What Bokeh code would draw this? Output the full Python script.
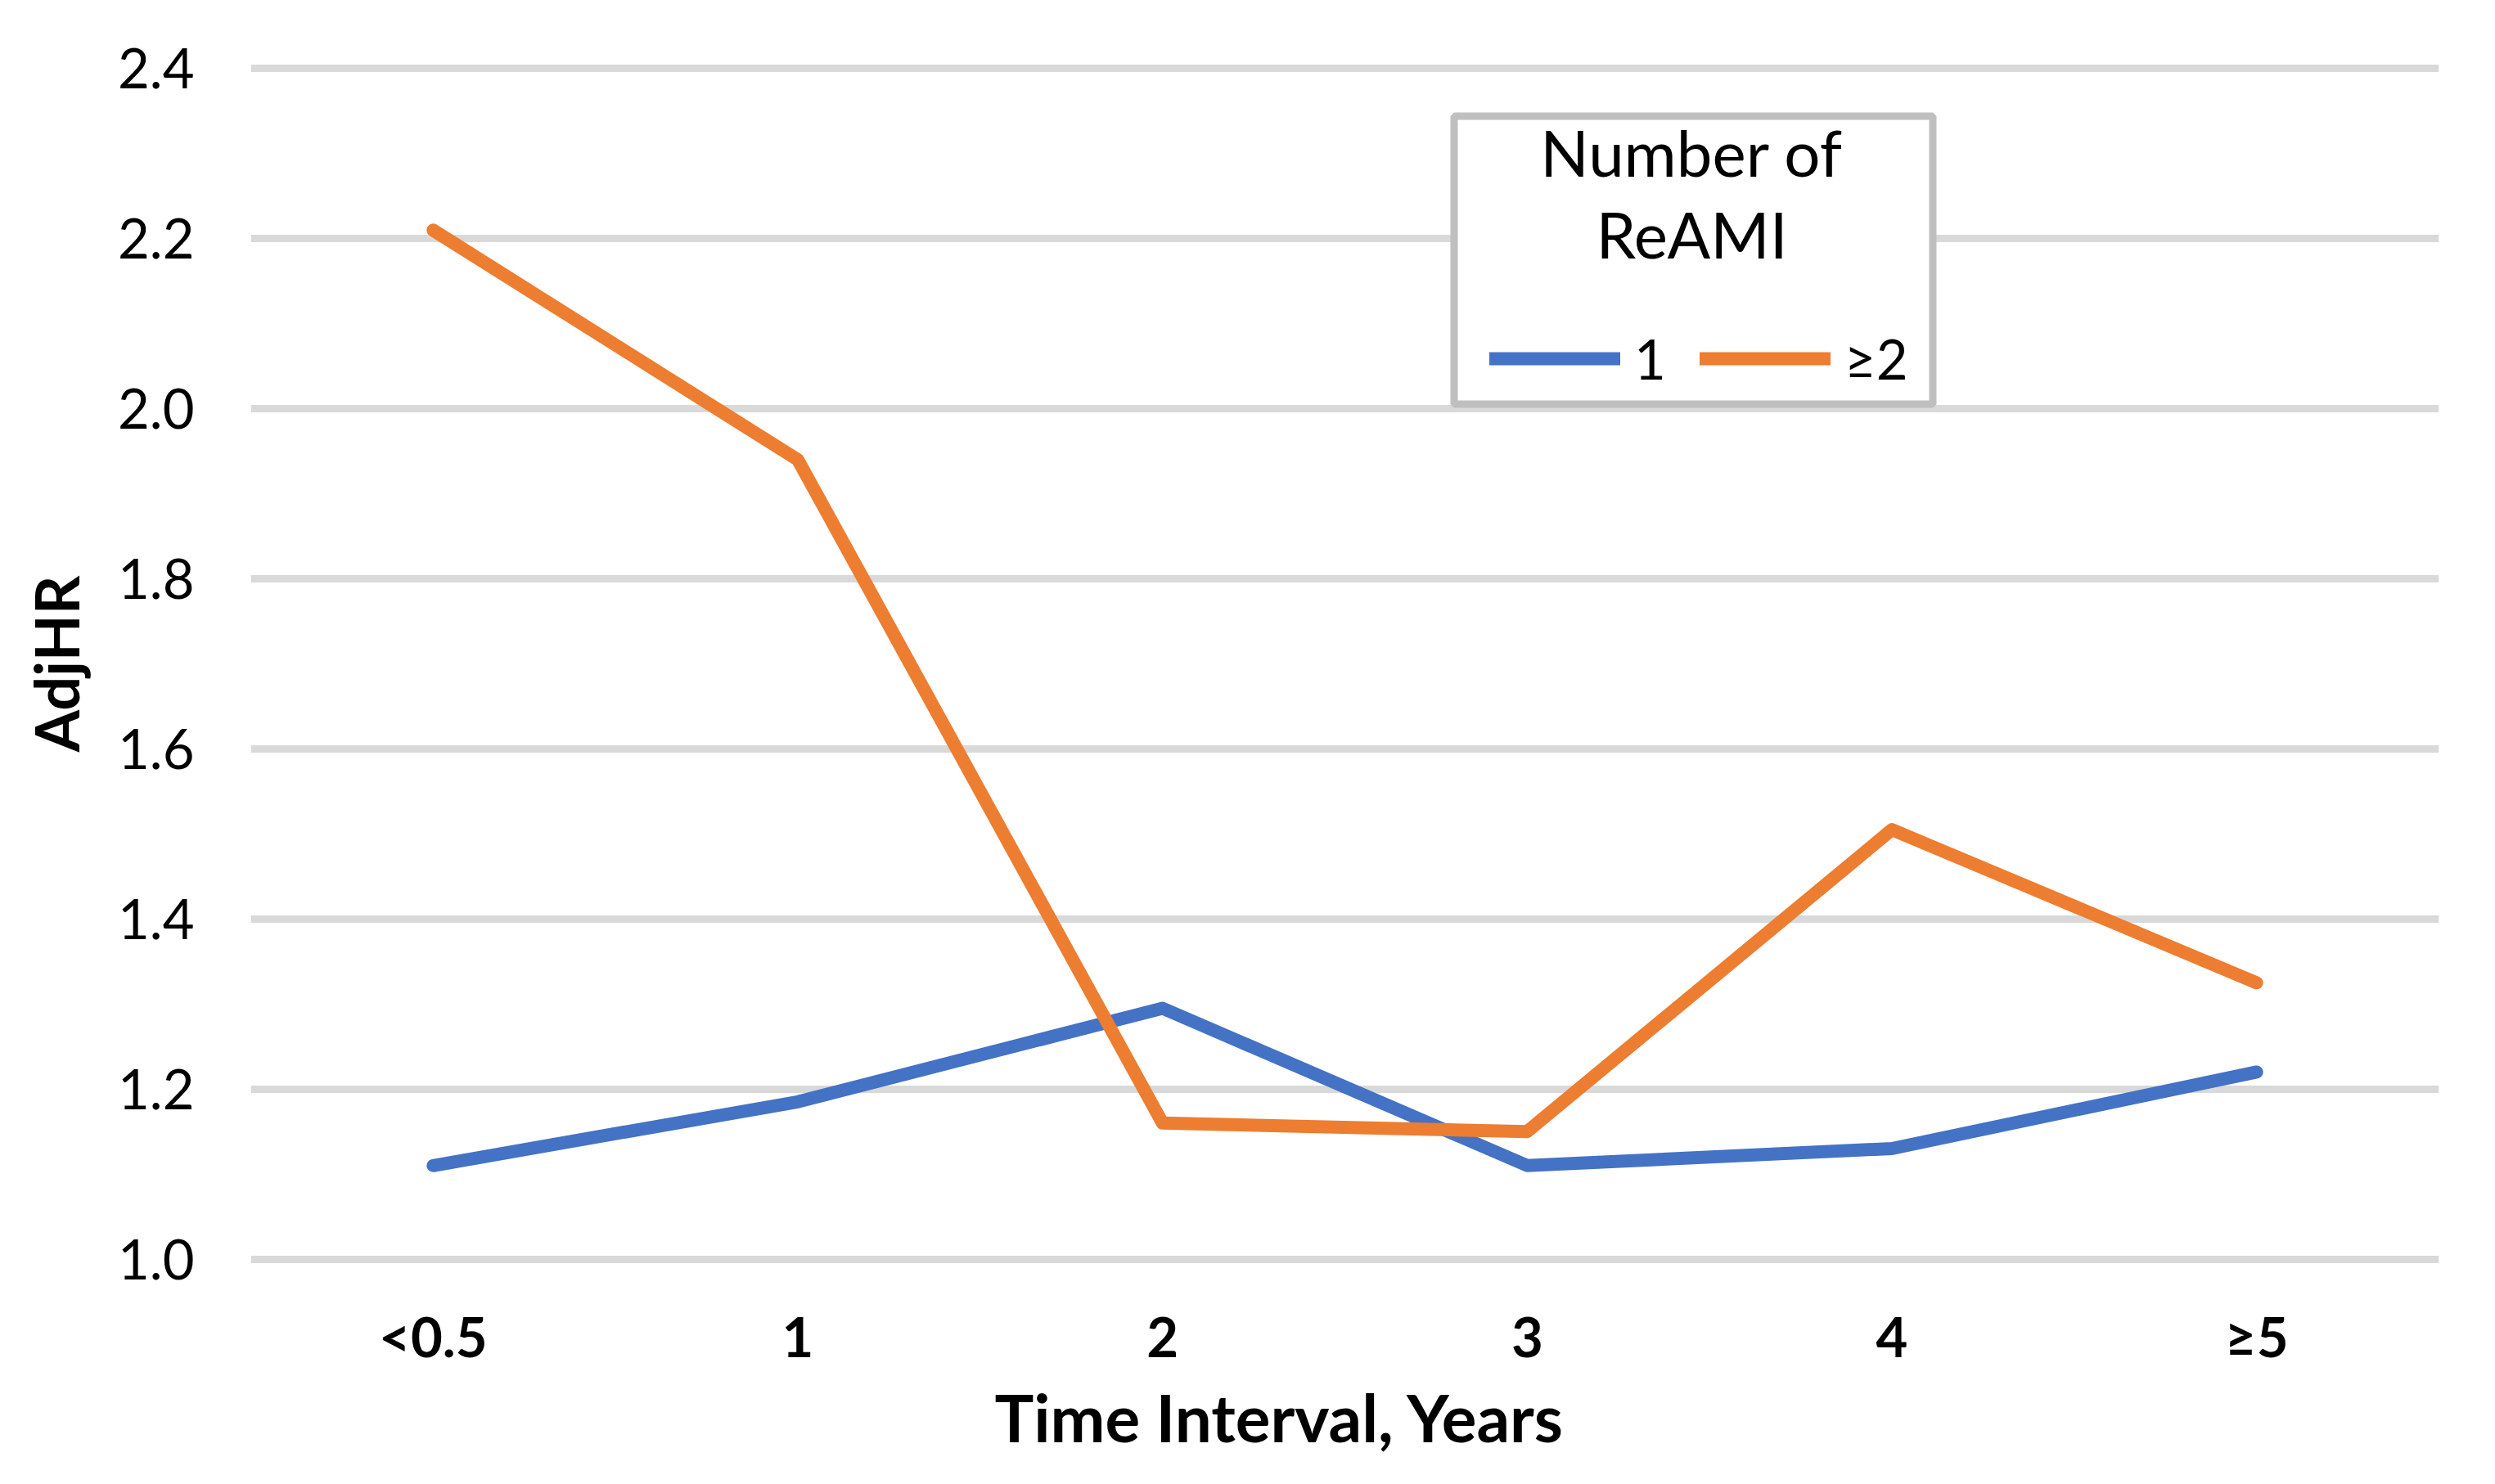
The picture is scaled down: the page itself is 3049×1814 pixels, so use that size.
from bokeh.plotting import figure
from bokeh.models import (ColumnDataSource, FactorRange, Range1d, FixedTicker,
                          PrintfTickFormatter, Legend, LegendItem, Label,
                          BoxAnnotation, Title)
from bokeh.embed import file_html
from bokeh.resources import INLINE

# ---------------- data ----------------
categories = ["<0.5", "1", "2", "3", "4", "≥5"]
reami_1 = [1.11, 1.185, 1.295, 1.11, 1.13, 1.22]
reami_2plus = [2.21, 1.94, 1.16, 1.15, 1.505, 1.325]
y_ticks = [1.0, 1.2, 1.4, 1.6, 1.8, 2.0, 2.2, 2.4]
series_names = ["1", "≥2"]
legend_title = ["Number of", "ReAMI"]
x_title = "Time Interval, Years"
y_title = "AdjHR"

# ---------------- style ----------------
FONT = "Lato"
BLUE = "#4472C4"
ORANGE = "#ED7D31"
GRID = "#D9D9D9"
LEG_BORDER = "#BFBFBF"

W, H = 3041, 1806
FRAME_L, FRAME_R = 306, 2980          # page px
FRAME_T, FRAME_B = 73, 1549
Y_LO, Y_HI = 0.99, 2.41

src = ColumnDataSource(dict(cat=categories, one=reami_1, two=reami_2plus))

p = figure(
    x_range=FactorRange(factors=categories),
    y_range=Range1d(Y_LO, Y_HI),
    width=W, height=H,
    output_backend="svg", toolbar_location=None,
    min_border_left=FRAME_L, min_border_right=W - FRAME_R,
    min_border_top=FRAME_T, min_border_bottom=H - FRAME_B,
    background_fill_color="white", border_fill_color="white",
)
p.outline_line_color = None

# helpers: page px -> data coordinates (for annotations only)
cat_w = (FRAME_R - FRAME_L) / len(categories)
px_per_unit = (FRAME_B - FRAME_T) / (Y_HI - Y_LO)
def xd(px):
    return (px - FRAME_L) / cat_w
def yd(py):
    return Y_LO + (FRAME_B - py) / px_per_unit

# grid
p.xgrid.grid_line_color = None
p.ygrid.grid_line_color = GRID
p.ygrid.grid_line_width = 9

# axes
p.yaxis.ticker = FixedTicker(ticks=y_ticks)
p.yaxis.formatter = PrintfTickFormatter(format="%.1f")
for ax in (p.xaxis[0], p.yaxis[0]):
    ax.axis_line_color = None
    ax.major_tick_line_color = None
    ax.minor_tick_line_color = None
    ax.major_label_text_font = FONT
    ax.major_label_text_font_size = "67px"
    ax.major_label_text_color = "black"
p.yaxis.major_label_standoff = 63
p.xaxis.major_label_standoff = 37
p.xaxis.major_label_text_font_style = "bold"

p.yaxis.axis_label = y_title
p.yaxis.axis_label_text_font = FONT
p.yaxis.axis_label_text_font_size = "74px"
p.yaxis.axis_label_text_font_style = "bold"
p.yaxis.axis_label_text_color = "black"
p.yaxis.axis_label_standoff = 28

# x axis title, placed left of the frame centre as in the original
p.add_layout(Title(text=x_title, align="left", offset=1215 - FRAME_L, standoff=13,
                   text_font=FONT, text_font_size="80px",
                   text_font_style="bold", text_color="black"), "below")

# data lines
r1 = p.line(x="cat", y="one", source=src, line_color=BLUE, line_width=16,
            line_cap="round", line_join="round")
r2 = p.line(x="cat", y="two", source=src, line_color=ORANGE, line_width=16,
            line_cap="round", line_join="round")

# legend box
p.add_layout(BoxAnnotation(left=xd(1776.5), right=xd(2361.5),
                           top=yd(141.5), bottom=yd(493.5),
                           fill_color="white", fill_alpha=1.0,
                           line_color=LEG_BORDER, line_width=9, line_alpha=1.0,
                           level="annotation"))
for txt, base in zip(legend_title, (185, 285)):
    p.add_layout(Label(x=xd(2067), y=yd(base), text=txt,
                       text_font=FONT, text_font_size="78px",
                       text_align="center", text_baseline="alphabetic",
                       text_color="black"))

legend = Legend(
    items=[LegendItem(label=series_names[0], renderers=[r1]),
           LegendItem(label=series_names[1], renderers=[r2])],
    orientation="horizontal",
    location=(1820 - FRAME_L, FRAME_B - 438 - 40),
    glyph_width=160, glyph_height=80, label_height=80,
    label_standoff=17, spacing=41, padding=0, margin=0,
    border_line_alpha=0, background_fill_alpha=0,
    label_text_font=FONT, label_text_font_size="67px", label_text_color="black",
)
p.add_layout(legend)

open("out.html", "w").write(file_html(p, INLINE))
